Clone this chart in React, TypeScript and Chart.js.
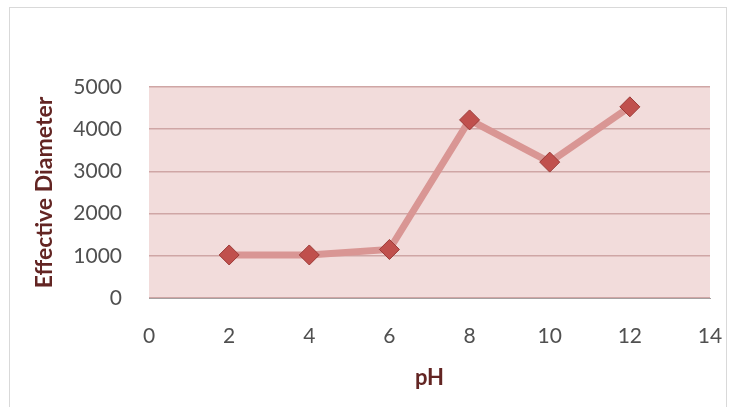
import React, { useEffect, useRef } from "react";
import { Chart, registerables } from "chart.js";

Chart.register(...registerables);

const phValues = [2, 4, 6, 8, 10, 12];
const diameterValues = [1020, 1020, 1150, 4220, 3220, 4530];
const xTicks = [0, 2, 4, 6, 8, 10, 12, 14];
const yTicks = [0, 1000, 2000, 3000, 4000, 5000];

const plotBg = {
  id: "plotBg",
  beforeDraw(chart: any) {
    const { ctx, chartArea } = chart;
    if (!chartArea) return;
    ctx.save();
    ctx.fillStyle = "#f2dcdb";
    ctx.fillRect(chartArea.left, chartArea.top, chartArea.right - chartArea.left, chartArea.bottom - chartArea.top);
    ctx.restore();
  },
};

export default function App() {
  const ref = useRef<HTMLCanvasElement | null>(null);
  useEffect(() => {
    if (!ref.current) return;
    const chart = new Chart(ref.current, {
      type: "line",
      data: {
        datasets: [
          {
            data: phValues.map((x, i) => ({ x, y: diameterValues[i] })),
            borderColor: "#d99694",
            borderWidth: 7,
            pointStyle: "rectRot",
            pointRadius: 10,
            pointBackgroundColor: "#c0504d",
            pointBorderColor: "#9c3a37",
            pointBorderWidth: 1,
            tension: 0,
          },
        ],
      },
      options: {
        animation: false,
        responsive: false,
        devicePixelRatio: 1,
        layout: { padding: { left: 0, top: 87, right: 22, bottom: 0 } },
        plugins: { legend: { display: false }, tooltip: { enabled: false } },
        scales: {
          x: {
            type: "linear",
            min: 0,
            max: 14,
            afterBuildTicks: (axis: any) => {
              axis.ticks = xTicks.map((v) => ({ value: v }));
            },
            afterFit: (axis: any) => {
              axis.height = 109;
              axis.paddingRight = 0;
              axis.paddingLeft = 0;
            },
            grid: { display: false, drawTicks: false },
            border: { display: true, color: "#a6a0a0", width: 1 },
            ticks: {
              padding: 26,
              color: "#505050",
              font: { family: "Lato", size: 21 },
              maxRotation: 0,
              callback: (v: any) => String(v),
            },
            title: {
              display: true,
              text: "pH",
              color: "#632523",
              font: { family: "Lato", size: 22, weight: "bold" },
              padding: { top: 0, bottom: 16 },
            },
          },
          y: {
            type: "linear",
            min: 0,
            max: 5000,
            afterBuildTicks: (axis: any) => {
              axis.ticks = yTicks.map((v) => ({ value: v }));
            },
            afterFit: (axis: any) => {
              axis.width = 149;
              axis.paddingTop = 0;
              axis.paddingBottom = 0;
            },
            grid: { color: "#cfa6a5", lineWidth: 1.5, drawTicks: false },
            border: { display: false },
            ticks: {
              padding: 27,
              color: "#505050",
              font: { family: "Lato", size: 21 },
              callback: (v: any) => String(v),
            },
            title: {
              display: true,
              text: "Effective Diameter",
              color: "#632523",
              font: { family: "Lato", size: 23, weight: "bold" },
              padding: { top: 31, bottom: 0 },
            },
          },
        },
      },
      plugins: [plotBg],
    });
    return () => chart.destroy();
  }, []);

  return (
    <div style={{ position: "fixed", left: 0, top: 0, width: 732, height: 407, background: "#fff", overflow: "hidden" }}>
      <div
        style={{
          position: "absolute",
          left: 9,
          top: 7,
          width: 718,
          height: 420,
          border: "1px solid #d9d9d9",
          boxSizing: "border-box",
        }}
      />
      <canvas ref={ref} width={732} height={407} style={{ position: "absolute", left: 0, top: 0 }} />
    </div>
  );
}
